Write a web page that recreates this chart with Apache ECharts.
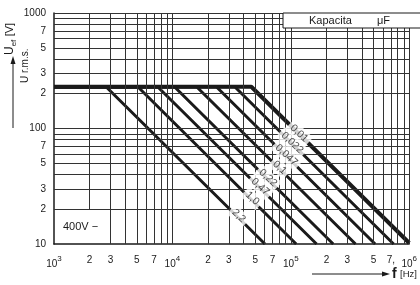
<!DOCTYPE html>
<html>
<head>
<meta charset="utf-8">
<script src="https://cdn.jsdelivr.net/npm/echarts@6/dist/echarts.min.js"></script>
<style>
html, body { margin: 0; padding: 0; background: #fff; }
#chart { width: 420px; height: 285px; }
</style>
</head>
<body>
<div id="chart"></div>
<script>
// capacitance curves, values
var capLabels = ['0,01', '0,022', '0,047', '0,1', '0,22', '0,47', '1,0', '2,2'];
var ratedVolt = 230;
var breakFreq = [46400, 33600, 23500, 16000, 10400, 7500, 5100, 2750];
var endFreq = [1000000, 738000, 515000, 352000, 228000, 165000, 111000, 60500];
var endVolt = [10.2, 10, 10, 10, 10, 10, 10, 10];
var labelFreq = [117500, 102800, 91800, 80400, 64100, 55100, 47300, 36300];
var labelVolt = [90.8, 75.2, 58.9, 45.8, 37.3, 31.3, 24.8, 17.5];

// axis ticks
var xTicks = [1000, 2000, 3000, 5000, 7000, 10000, 20000, 30000, 50000, 70000, 100000, 200000, 300000, 500000, 700000, 1000000];
var xTickText = ['10|3', '2', '3', '5', '7', '10|4', '2', '3', '5', '7', '10|5', '2', '3', '5', '7,', '10|6'];
var yTicks = [10, 20, 30, 50, 70, 100, 200, 300, 500, 700, 1000];
var yTickText = ['10', '2', '3', '5', '7', '100', '2', '3', '5', '7', '1000'];

var font = '"Liberation Sans", Arial, sans-serif';
var ink = '#1a1a1a';

function findTick(ticks, texts, v) {
	for (var i = 0; i < ticks.length; i++) {
		if (Math.abs(v - ticks[i]) / ticks[i] < 1e-6) return texts[i];
	}
	return '';
}

// decade grid 1..9 x 10^k
var gridX = [], gridY = [];
for (var d = 1000; d < 1000000; d *= 10) {
	for (var m = 1; m < 10; m++) {
		if (d == 1000 && (m == 1 || m == 2)) continue;
		gridX.push({ xAxis: m * d });
	}
}
gridX.push({ xAxis: 1000000 });
for (var d = 10; d < 1000; d *= 10) {
	for (var m = 2; m < 10; m++) gridY.push({ yAxis: m * d });
	if (d > 10) gridY.push({ yAxis: d });
}
gridY.push({ yAxis: 1000 });
var gridLines = gridX.concat(gridY);
gridLines.push([{ coord: [2000, 20] }, { coord: [2000, 1000] }]);

var series = [{
	type: 'line',
	data: [[1000, 10]],
	symbol: 'none',
	silent: true,
	z: 1,
	markLine: {
		silent: true,
		symbol: ['none', 'none'],
		label: { show: false },
		lineStyle: { color: '#333', width: 1, type: 'solid' },
		emphasis: { disabled: true },
		data: gridLines
	}
}];

for (var i = 0; i < capLabels.length; i++) {
	series.push({
		type: 'line',
		name: capLabels[i],
		data: [[1000, ratedVolt], [breakFreq[i], ratedVolt], [endFreq[i], endVolt[i]]],
		symbol: 'none',
		silent: true,
		z: 3,
		lineStyle: { color: ink, width: i == 0 ? 4 : 3 }
	});
}

var labelData = [];
for (var i = 0; i < capLabels.length; i++) {
	labelData.push({ value: [labelFreq[i], labelVolt[i]], label: { formatter: capLabels[i] } });
}
series.push({
	type: 'scatter',
	data: labelData,
	symbolSize: 1,
	itemStyle: { color: 'rgba(0,0,0,0)' },
	silent: true,
	z: 5,
	label: {
		show: true,
		position: 'inside',
		rotate: -43,
		color: ink,
		fontSize: 10.5,
		fontFamily: font,
		backgroundColor: '#fff',
		padding: [1, 3]
	}
});

var chart = echarts.init(document.getElementById('chart'));
var option = {
	animation: false,
	backgroundColor: '#fff',
	grid: { left: 54, right: 2, top: 13, bottom: 41 },
	xAxis: {
		type: 'log',
		logBase: 10,
		min: 1000,
		max: 1000000,
		axisLine: { show: true, lineStyle: { color: ink, width: 1.5 } },
		axisTick: { show: false },
		splitLine: { show: false },
		axisLabel: {
			customValues: xTicks,
			margin: 11,
			color: ink,
			fontSize: 10,
			fontFamily: font,
			formatter: function (v) {
				var t = findTick(xTicks, xTickText, v);
				if (t.indexOf('|') > 0) {
					var p = t.split('|');
					return '{n|' + p[0] + '}{p|' + p[1] + '}';
				}
				return t;
			},
			rich: {
				n: { fontSize: 10, fontFamily: font, color: ink, lineHeight: 14, verticalAlign: 'bottom' },
				p: { fontSize: 8, fontFamily: font, color: ink, lineHeight: 14, verticalAlign: 'top' }
			}
		}
	},
	yAxis: {
		type: 'log',
		logBase: 10,
		min: 10,
		max: 1000,
		axisLine: { show: true, lineStyle: { color: ink, width: 1.5 } },
		axisTick: { show: false },
		splitLine: { show: false },
		axisLabel: {
			customValues: yTicks,
			margin: 8,
			color: ink,
			fontSize: 10,
			fontFamily: font,
			formatter: function (v) { return findTick(yTicks, yTickText, v); }
		}
	},
	graphic: [
		{ type: 'rect', shape: { x: 283, y: 13, width: 140, height: 15 }, style: { fill: '#fff', stroke: ink, lineWidth: 1 }, z: 10 },
		{ type: 'text', x: 309, y: 21, style: { text: 'Kapacita', font: '11px ' + font, fill: ink, verticalAlign: 'middle' }, z: 11 },
		{ type: 'text', x: 377, y: 21, style: { text: 'μF', font: '11px ' + font, fill: ink, verticalAlign: 'middle' }, z: 11 },
		{ type: 'text', x: 11, y: 55, rotation: Math.PI / 2, style: {
			text: '{u|U}{s|ef} {v|[V]}', fill: ink, verticalAlign: 'middle',
			rich: {
				u: { fontSize: 12, fontFamily: font, lineHeight: 14, verticalAlign: 'top' },
				s: { fontSize: 8, fontFamily: font, lineHeight: 14, verticalAlign: 'bottom' },
				v: { fontSize: 11, fontFamily: font, lineHeight: 14, verticalAlign: 'top' }
			}
		} },
		{ type: 'text', x: 25, y: 83, rotation: Math.PI / 2, style: { text: 'U r.m.s.', font: '10px ' + font, fill: ink, verticalAlign: 'middle' } },
		{ type: 'line', shape: { x1: 13, y1: 128, x2: 13, y2: 62 }, style: { stroke: ink, lineWidth: 1 } },
		{ type: 'polygon', shape: { points: [[13, 56], [10.5, 64], [15.5, 64]] }, style: { fill: ink } },
		{ type: 'line', shape: { x1: 312, y1: 274, x2: 384, y2: 274 }, style: { stroke: ink, lineWidth: 1 } },
		{ type: 'polygon', shape: { points: [[390, 274], [382, 271.5], [382, 276.5]] }, style: { fill: ink } },
		{ type: 'text', x: 392, y: 274, style: { text: 'f', font: 'bold 14px ' + font, fill: ink, verticalAlign: 'middle' } },
		{ type: 'text', x: 400, y: 274, style: { text: '[Hz]', font: '9.5px ' + font, fill: ink, verticalAlign: 'middle' } },
		{ type: 'text', x: 63, y: 227, style: { text: '400V \u2212', font: '11px ' + font, fill: ink, verticalAlign: 'middle' }, z: 10 }
	],
	series: series
};
chart.setOption(option);
window.onresize = chart.resize;
</script>
</body>
</html>
